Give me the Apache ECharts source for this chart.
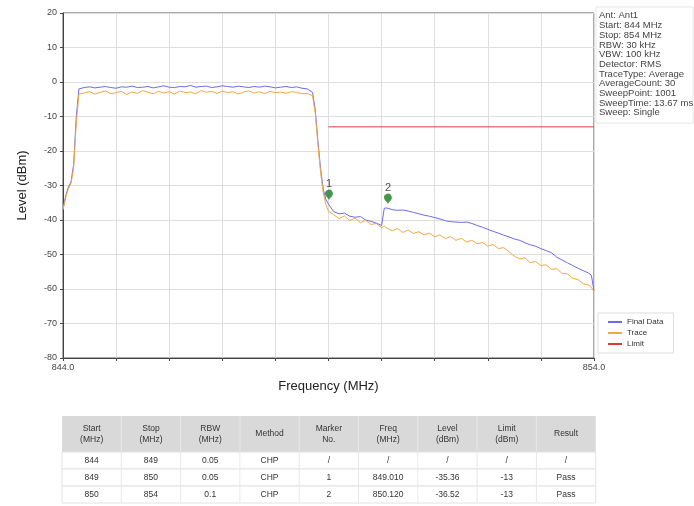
<!DOCTYPE html>
<html>
<head>
<meta charset="utf-8">
<script src="https://cdn.jsdelivr.net/npm/echarts@6/dist/echarts.min.js"></script>
<style>
  html, body { margin: 0; padding: 0; background: #fff; }
  #chart { width: 694px; height: 506px; }
</style>
</head>
<body>
<div id="chart"></div>
<script>
// frequency points (MHz)
const freq = [
  844.0, 844.05, 844.1, 844.15, 844.2, 844.25, 844.3,
  844.4, 844.5, 844.6, 844.7, 844.8, 844.9, 845.0, 845.1, 845.2, 845.3, 845.4, 845.5, 845.6, 845.7,
  845.8, 845.9, 846.0, 846.1, 846.2, 846.3, 846.4, 846.5, 846.6, 846.7, 846.8, 846.9, 847.0, 847.1,
  847.2, 847.3, 847.4, 847.5, 847.6, 847.7, 847.8, 847.9, 848.0, 848.1, 848.2, 848.3, 848.4, 848.5, 848.6,
  848.7, 848.75, 848.8, 848.85, 848.9, 848.95, 849.0,
  849.1, 849.2, 849.3, 849.4, 849.5, 849.6, 849.7, 849.8, 849.9, 850.0,
  850.05,
  850.1, 850.2, 850.3, 850.4, 850.5, 850.6, 850.7, 850.8, 850.9,
  851.0, 851.1, 851.2, 851.3, 851.4, 851.5, 851.6, 851.7, 851.8, 851.9,
  852.0, 852.1, 852.2, 852.3, 852.4, 852.5, 852.6, 852.7, 852.8, 852.9,
  853.0, 853.1, 853.2, 853.3, 853.4, 853.5, 853.6, 853.7, 853.8, 853.9,
  853.95, 854.0
];

// Final Data (dBm)
const finalData = [
  -37, -33, -30.5, -29, -24, -10, -2,
  -1.6, -1.4, -1.7, -1.5, -1.3, -1.6, -1.8, -1.4, -1.5, -1.2, -1.6, -1.5, -1.3, -1.7,
  -1.4, -1.1, -1.5, -1.6, -1.3, -1.4, -1.0, -1.5, -1.3, -1.2, -1.6, -1.4, -1.1, -1.3,
  -1.5, -1.2, -1.4, -1.6, -1.3, -1.5, -1.2, -1.4, -1.7, -1.5, -1.3, -1.6, -1.4, -1.8, -2.0,
  -3, -8, -17, -25, -31, -34, -35.4,
  -37.6, -38.2, -38.0, -38.9, -39.2, -39.0, -40.0, -40.4, -40.9, -41.6,
  -36.6,
  -36.5, -37.0, -37.2, -37.1, -37.4, -37.8, -38.2, -38.6, -38.9,
  -39.3, -39.7, -40.2, -40.5, -40.6, -40.7, -40.6, -41.0, -41.6, -42.1,
  -42.7, -43.3, -43.8, -44.4, -44.9, -45.5, -45.9, -46.6, -47.2, -47.6,
  -48.3, -48.9, -49.5, -50.8, -51.6, -52.4, -53.2, -54.0, -54.7, -55.4,
  -56.0, -60.5
];

// Trace (dBm)
const trace = [
  -37, -33.5, -31, -29.5, -25, -12, -3.5,
  -3.2, -2.8, -3.5, -3.0, -2.6, -3.4, -3.1, -2.7, -3.6, -2.9, -3.3, -2.5, -3.0, -3.4,
  -2.7, -3.2, -2.8, -3.5, -2.6, -3.1, -2.9, -3.4, -2.5, -3.0, -2.7, -3.3, -2.6, -3.1,
  -2.8, -3.5, -2.9, -2.6, -3.2, -2.8, -3.4, -2.7, -3.1, -2.9, -3.3, -2.8, -3.0, -3.4, -3.3,
  -4, -9, -18, -26, -32, -35.5, -37.5,
  -38.5, -39.6, -38.8, -40.2, -39.4, -40.8, -40.1, -41.3, -41.0, -42.2,
  -41.8,
  -42.4, -43.1, -42.5, -43.6, -42.9, -43.9, -43.4, -44.3, -43.8,
  -44.9, -44.3, -45.4, -44.8, -45.9, -45.3, -46.4, -45.9, -46.9, -46.5,
  -47.6, -47.1, -48.3, -48.0, -49.2, -50.5, -51.3, -51.0, -52.4, -52.0,
  -53.2, -53.0, -54.3, -54.1, -55.5, -55.6, -56.9, -57.3, -58.5, -58.9,
  -59.5, -60.8
];

const limitFreq = [849, 854];
const limitLevel = [-13, -13];

const markerNames = ['1', '2'];
const markerFreq = [849.010, 850.120];
const markerLevel = [-35.36, -36.52];

const infoLines = [
  'Ant: Ant1', 'Start: 844 MHz', 'Stop: 854 MHz', 'RBW: 30 kHz', 'VBW: 100 kHz',
  'Detector: RMS', 'TraceType: Average', 'AverageCount: 30', 'SweepPoint: 1001',
  'SweepTime: 13.67 ms', 'Sweep: Single'
];

const tableHeader = ['Start\n(MHz)', 'Stop\n(MHz)', 'RBW\n(MHz)', 'Method', 'Marker\nNo.',
  'Freq\n(MHz)', 'Level\n(dBm)', 'Limit\n(dBm)', 'Result'];
const tableRows = [
  ['844', '849', '0.05', 'CHP', '/', '/', '/', '/', '/'],
  ['849', '850', '0.05', 'CHP', '1', '849.010', '-35.36', '-13', 'Pass'],
  ['850', '854', '0.1', 'CHP', '2', '850.120', '-36.52', '-13', 'Pass']
];

const font = 'Liberation Sans, Arial, sans-serif';
const chart = echarts.init(document.getElementById('chart'));

// table built from graphic elements
const tableLeft = 62, tableTop = 416, colW = 59.3, headH = 36, rowH = 17;
const tableEls = [];
tableEls.push({
  type: 'rect', shape: { x: tableLeft, y: tableTop, width: colW * 9, height: headH },
  style: { fill: '#d9d9d9' }
});
tableHeader.forEach((h, c) => {
  tableEls.push({
    type: 'text', x: tableLeft + colW * c + colW / 2, y: tableTop + headH / 2,
    style: { text: h, font: '8.5px ' + font, fill: '#333', align: 'center', verticalAlign: 'middle', lineHeight: 11 }
  });
});
tableRows.forEach((row, r) => {
  const y0 = tableTop + headH + rowH * r;
  tableEls.push({
    type: 'rect', shape: { x: tableLeft, y: y0, width: colW * 9, height: rowH },
    style: { fill: '#fff', stroke: '#e2e2e2', lineWidth: 1 }
  });
  row.forEach((v, c) => {
    tableEls.push({
      type: 'text', x: tableLeft + colW * c + colW / 2, y: y0 + rowH / 2,
      style: { text: v, font: '8.5px ' + font, fill: '#333', align: 'center', verticalAlign: 'middle' }
    });
  });
});
for (let c = 1; c < 9; c++) {
  tableEls.push({
    type: 'line', shape: { x1: tableLeft + colW * c, y1: tableTop, x2: tableLeft + colW * c, y2: tableTop + headH + rowH * 3 },
    style: { stroke: '#e8e8e8', lineWidth: 1 }
  });
}

const option = {
  animation: false,
  backgroundColor: '#fff',
  grid: { left: 63, right: 100, top: 13, bottom: 148, show: true, borderColor: '#555', borderWidth: 1 },
  legend: {
    data: ['Final Data', 'Trace', 'Limit'],
    orient: 'vertical',
    left: 598, top: 313,
    padding: [5, 10, 5, 10],
    borderColor: '#ddd', borderWidth: 1,
    itemWidth: 14, itemHeight: 2, itemGap: 3,
    icon: 'rect',
    textStyle: { fontSize: 8, color: '#333', fontFamily: font }
  },
  xAxis: {
    type: 'value', min: 844, max: 854, interval: 1,
    name: 'Frequency (MHz)', nameLocation: 'middle', nameGap: 22,
    nameTextStyle: { fontSize: 13, color: '#222', fontFamily: font },
    axisLine: { onZero: false, lineStyle: { color: '#444' } },
    axisTick: { show: true, length: 3, lineStyle: { color: '#444' } },
    axisLabel: {
      fontSize: 9, color: '#444', fontFamily: font, margin: 5,
      formatter: v => (v === 844 || v === 854) ? v.toFixed(1) : ''
    },
    splitLine: { show: true, lineStyle: { color: '#dedede' } }
  },
  yAxis: {
    type: 'value', min: -80, max: 20, interval: 10,
    name: 'Level (dBm)', nameLocation: 'middle', nameGap: 34,
    nameTextStyle: { fontSize: 13, color: '#222', fontFamily: font },
    axisLine: { show: true, onZero: false, lineStyle: { color: '#444' } },
    axisTick: { show: true, length: 3, lineStyle: { color: '#444' } },
    axisLabel: { fontSize: 9, color: '#444', fontFamily: font, margin: 6 },
    splitLine: { show: true, lineStyle: { color: '#dedede' } }
  },
  series: [
    {
      name: 'Final Data', type: 'line', showSymbol: false, symbol: 'none',
      data: freq.map((f, i) => [f, finalData[i]]),
      lineStyle: { color: '#6b6bea', width: 1 }, itemStyle: { color: '#6b6bea' }, z: 2
    },
    {
      name: 'Trace', type: 'line', showSymbol: false, symbol: 'none',
      data: freq.map((f, i) => [f, trace[i]]),
      lineStyle: { color: '#f5a742', width: 1 }, itemStyle: { color: '#f5a742' }, z: 3
    },
    {
      name: 'Limit', type: 'line', showSymbol: false, symbol: 'none',
      data: limitFreq.map((f, i) => [f, limitLevel[i]]),
      lineStyle: { color: '#e03a3a', width: 1 }, itemStyle: { color: '#e03a3a' }, z: 4
    },
    {
      name: 'Marker', type: 'scatter', symbol: 'pin', symbolSize: 13, symbolOffset: [0, -3],
      data: markerFreq.map((f, i) => ({ value: [f, markerLevel[i]], name: markerNames[i] })),
      itemStyle: { color: '#1a7a22' },
      label: { show: true, position: 'top', distance: 0, formatter: p => p.name, fontSize: 11, color: '#222', fontFamily: font },
      z: 5
    }
  ],
  graphic: [
    {
      type: 'rect', shape: { x: 596, y: 7, width: 97, height: 116 },
      style: { fill: 'none', stroke: '#e6e6e6', lineWidth: 1 }
    },
    {
      type: 'text', x: 599, y: 11,
      style: { text: infoLines.join('\n'), font: '9.5px ' + font, fill: '#444', lineHeight: 9.7 }
    }
  ].concat(tableEls)
};

chart.setOption(option);
</script>
</body>
</html>
